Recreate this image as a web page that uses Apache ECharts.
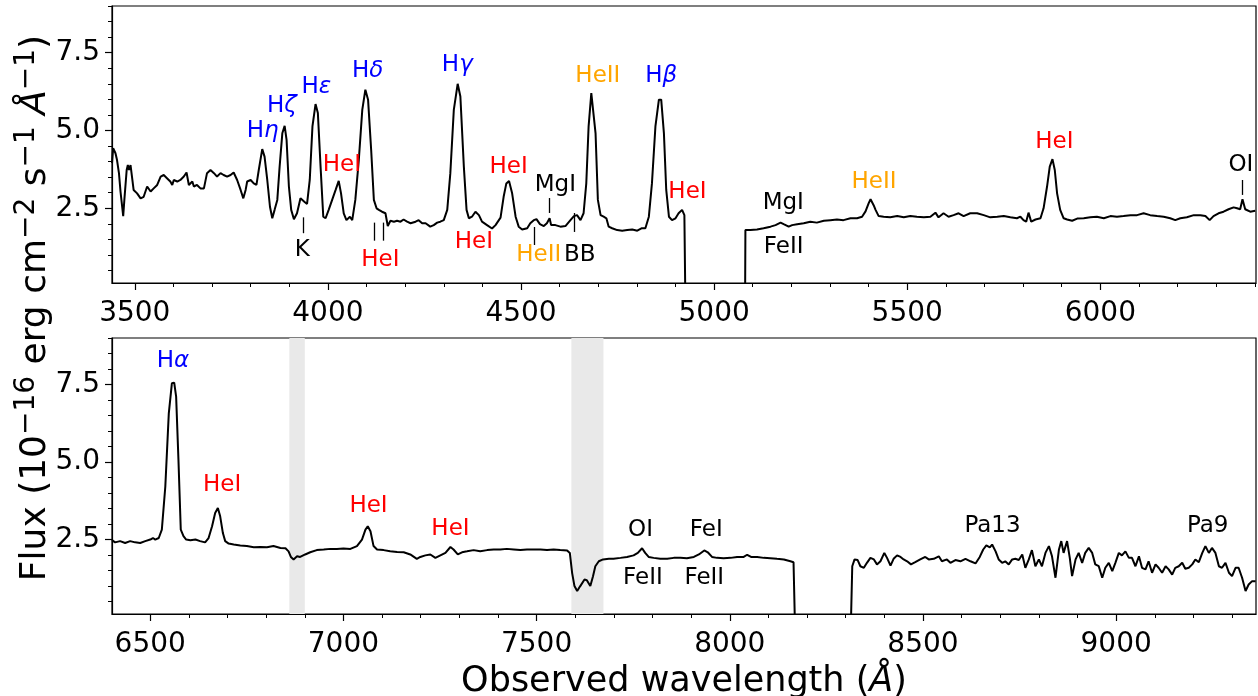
<!DOCTYPE html>
<html><head><meta charset="utf-8">
<script src="https://cdn.jsdelivr.net/npm/echarts@6/dist/echarts.min.js"></script>
<style>html,body{margin:0;padding:0;background:#fff}#c{width:1258px;height:696px}</style>
</head><body><div id="c"></div>
<script>
// ---------- Top panel spectrum (wavelength in Å, flux in 1e-16 erg/cm2/s/Å) ----------
const topWl = [3441,3444,3450,3454,3459,3463,3470,3473,3479,3482,3485,3489,3493,3497,3506,3515,3523,3532,3536,3541,3549,3558,3567,3575,3584,3592,3597,3601,3610,3618,3627,3634,3640,3649,3653,3661,3670,3679,3687,3696,3705,3713,3722,3730,3739,3748,3756,3765,3774,3781,3787,3791,3800,3808,3815,3821,3830,3836,3843,3850,3856,3862,3869,3875,3882,3888,3893,3899,3905,3912,3920,3929,3933,3939,3946,3953,3960,3968,3974,3981,3988,3994,4002,4011,4020,4028,4034,4041,4048,4057,4063,4071,4080,4089,4097,4104,4112,4119,4126,4132,4140,4149,4155,4162,4171,4179,4188,4196,4205,4214,4227,4235,4244,4253,4265,4274,4283,4291,4300,4309,4317,4326,4336,4343,4352,4359,4365,4373,4382,4391,4399,4412,4425,4434,4447,4455,4462,4469,4477,4486,4494,4503,4516,4524,4533,4540,4549,4559,4567,4574,4578,4589,4602,4615,4628,4637,4645,4654,4662,4669,4675,4682,4687,4693,4699,4706,4714,4721,4727,4736,4749,4762,4775,4788,4801,4813,4822,4831,4839,4848,4857,4863,4870,4876,4883,4891,4900,4908,4917,4923,4926,5080,5081,5085,5094,5111,5128,5146,5159,5172,5180,5193,5202,5215,5232,5249,5266,5284,5301,5318,5335,5353,5370,5383,5392,5400,5405,5413,5418,5426,5439,5456,5474,5491,5508,5525,5543,5560,5573,5581,5594,5607,5620,5633,5646,5663,5681,5698,5715,5733,5750,5767,5784,5793,5801,5808,5814,5821,5832,5845,5853,5862,5869,5876,5882,5888,5896,5905,5914,5927,5940,5957,5974,5991,6009,6026,6043,6060,6078,6095,6112,6129,6147,6164,6181,6194,6207,6224,6242,6259,6272,6283,6293,6306,6319,6332,6345,6354,6362,6368,6375,6388,6401];
const topFlux = [3.95,4.43,4.27,4.05,3.63,3.04,2.25,2.77,3.73,3.89,3.73,3.89,3.84,3.09,2.98,2.82,2.87,3.20,3.25,3.04,3.14,3.25,3.52,3.57,3.46,3.36,3.25,3.41,3.36,3.41,3.52,3.65,3.25,3.36,3.20,3.25,3.14,3.14,3.63,3.73,3.63,3.52,3.63,3.57,3.52,3.57,3.65,3.41,3.09,2.82,3.09,3.36,3.41,3.30,3.25,3.73,4.40,4.16,3.41,2.55,2.18,2.45,2.77,3.84,4.91,5.15,4.70,3.20,2.45,2.15,2.34,2.82,2.87,2.71,2.64,3.41,5.13,5.85,5.56,3.84,2.23,2.18,2.45,2.77,3.09,3.38,2.98,2.34,2.12,2.23,2.12,2.77,4.05,5.66,6.31,5.99,4.38,2.77,2.50,2.45,2.39,2.34,1.93,2.10,2.07,2.10,2.07,2.14,2.07,2.02,2.07,2.12,2.02,2.02,1.91,1.96,2.04,2.07,2.12,2.45,3.63,5.66,6.50,6.09,3.84,2.45,2.18,2.23,2.39,2.28,2.07,1.96,1.85,1.96,2.20,2.87,3.30,3.38,2.98,2.23,1.91,1.82,1.86,2.02,2.12,2.15,1.99,1.93,2.02,2.18,1.96,1.96,1.91,1.93,2.12,2.25,2.28,2.12,2.34,3.30,5.13,6.20,6.18,4.91,2.77,2.28,2.23,2.18,1.91,1.86,1.80,1.78,1.80,1.82,1.78,1.86,1.86,2.23,3.30,5.13,5.99,5.99,4.91,3.09,2.23,2.12,2.18,2.34,2.45,2.28,-1,-1,1.80,1.82,1.80,1.82,1.86,1.91,1.96,2.04,1.99,1.91,1.96,1.99,2.02,2.07,2.04,2.10,2.12,2.14,2.12,2.18,2.18,2.23,2.40,2.66,2.79,2.60,2.45,2.25,2.23,2.21,2.25,2.21,2.25,2.23,2.21,2.23,2.36,2.21,2.34,2.23,2.28,2.34,2.25,2.34,2.34,2.28,2.21,2.23,2.25,2.21,2.18,2.23,2.12,2.07,2.36,2.07,2.14,2.18,2.50,3.20,3.84,4.08,3.73,2.98,2.45,2.18,2.14,2.10,2.17,2.18,2.21,2.23,2.18,2.25,2.23,2.25,2.28,2.28,2.34,2.28,2.25,2.23,2.18,2.12,2.18,2.21,2.28,2.28,2.25,2.12,2.25,2.34,2.39,2.47,2.53,2.50,2.47,2.79,2.47,2.39,2.42];

// ---------- Bottom panel spectrum ----------
const botWl = [6401,6409,6422,6435,6448,6461,6474,6487,6500,6507,6513,6522,6530,6539,6548,6556,6562,6567,6573,6579,6586,6593,6604,6617,6629,6642,6651,6660,6668,6675,6681,6688,6694,6703,6716,6733,6750,6768,6785,6802,6819,6837,6850,6858,6864,6871,6880,6888,6901,6914,6931,6949,6966,6983,7000,7018,7035,7048,7057,7063,7070,7078,7087,7104,7121,7139,7156,7173,7190,7199,7212,7225,7238,7251,7264,7277,7285,7296,7307,7320,7337,7354,7372,7389,7406,7423,7441,7458,7475,7492,7510,7527,7544,7561,7579,7586,7592,7598,7605,7613,7624,7630,7639,7646,7652,7661,7672,7687,7699,7717,7734,7751,7762,7773,7781,7790,7803,7820,7838,7855,7872,7889,7907,7920,7934,7943,7954,7967,7984,8002,8019,8036,8045,8055,8071,8088,8105,8122,8140,8157,8165,8170,8312,8317,8323,8331,8338,8347,8355,8364,8373,8381,8390,8400,8407,8416,8424,8433,8442,8450,8459,8469,8480,8493,8506,8515,8528,8541,8549,8562,8571,8584,8597,8610,8623,8636,8647,8656,8664,8673,8679,8688,8696,8705,8713,8722,8731,8739,8748,8757,8765,8774,8782,8791,8800,8808,8817,8826,8834,8843,8852,8858,8864,8873,8880,8886,8895,8903,8912,8920,8929,8938,8946,8955,8964,8972,8981,8990,8998,9007,9015,9024,9033,9041,9050,9059,9067,9076,9084,9093,9102,9110,9119,9128,9136,9145,9153,9162,9171,9179,9188,9197,9205,9214,9223,9231,9240,9248,9257,9266,9274,9283,9292,9300,9309,9317,9326,9335,9343,9352,9361];
const botFlux = [2.48,2.41,2.45,2.39,2.45,2.41,2.39,2.45,2.50,2.55,2.50,2.55,2.82,4.21,6.57,7.54,7.56,7.11,5.07,2.82,2.61,2.50,2.48,2.50,2.45,2.41,2.55,2.93,3.36,3.52,3.25,2.71,2.45,2.37,2.34,2.31,2.29,2.25,2.26,2.25,2.29,2.23,2.22,2.12,1.94,1.86,1.96,1.94,2.02,2.09,2.16,2.18,2.20,2.20,2.21,2.20,2.29,2.50,2.82,2.93,2.77,2.29,2.18,2.16,2.12,2.10,2.09,2.02,1.88,1.94,1.99,2.02,1.91,1.99,2.07,2.26,2.18,2.02,2.09,2.12,2.16,2.12,2.16,2.18,2.18,2.20,2.18,2.16,2.18,2.18,2.18,2.16,2.18,2.16,2.15,2.07,1.42,1.00,0.84,1.00,1.21,1.19,1.00,1.32,1.64,1.80,1.86,1.88,1.88,1.91,1.94,1.99,2.07,2.22,2.07,1.94,1.91,1.88,1.88,1.91,1.91,1.90,1.94,2.02,2.15,2.09,1.94,1.91,1.90,1.91,1.94,1.94,2.01,1.94,1.94,1.91,1.90,1.88,1.86,1.80,1.77,-1,-1,1.64,1.86,1.84,1.64,1.59,1.75,1.91,1.86,1.70,1.80,2.07,1.91,1.66,1.88,1.99,1.94,1.86,1.80,1.70,1.77,1.86,1.94,1.86,1.88,1.96,1.80,1.86,1.75,1.84,1.80,1.88,1.80,1.73,1.94,2.18,2.31,2.25,2.34,2.12,1.86,1.75,1.80,1.70,1.86,1.88,1.84,2.02,1.59,1.86,2.16,1.64,1.86,1.64,2.07,2.29,1.96,1.27,2.18,2.45,2.07,2.45,1.91,1.32,1.86,2.07,1.75,2.07,2.23,2.07,1.70,1.64,1.27,1.59,1.75,1.48,1.75,2.07,1.99,2.12,1.91,1.91,1.64,1.96,1.59,1.54,1.80,1.43,1.70,1.59,1.43,1.64,1.54,1.37,1.59,1.64,1.75,1.56,1.59,1.70,1.86,1.77,2.07,2.29,2.07,2.23,2.07,1.64,1.59,1.75,1.43,1.32,1.59,1.59,1.27,0.84,1.05,1.16,1.16];

// ---------- Axis ranges & tick labels ----------
const topRange = [3441, 6403];
const botRange = [6401, 9362];
const fluxRange = [0.1, 9.0];
const topXTicks = [3500, 4000, 4500, 5000, 5500, 6000];
const botXTicks = [6500, 7000, 7500, 8000, 8500, 9000];
const yTicks = [2.5, 5.0, 7.5];

// ---------- Telluric shaded bands (bottom panel) ----------
const shadeBands = [[6860, 6900], [7590, 7673]];

// ---------- Line identifications ----------
const topLabelText  = ['Hη','Hζ','Hε','Hδ','Hγ','HeII','Hβ','HeI','HeI','HeI','HeI','HeII','OI','MgI','HeII','BB','K','HeI','HeI','MgI','FeII'];
const topLabelWl    = [3831,3881,3970,4103,4335,4699,4863,4036,4468,4931,5881,5414,6364,4589,4546,4652,3934,4136,4378,5179,5180];
const topLabelFlux  = [4.99,5.79,6.41,6.90,7.11,6.74,6.74,3.89,3.84,3.02,4.64,3.35,3.89,3.25,1.00,1.00,1.16,0.84,1.42,2.66,1.26];
const topLabelColor = ['#0000ff','#0000ff','#0000ff','#0000ff','#0000ff','#ffa500','#0000ff','#ff0000','#ff0000','#ff0000','#ff0000','#ffa500','#000000','#000000','#ffa500','#000000','#000000','#ff0000','#ff0000','#000000','#000000'];
// small vertical markers: [wavelength, lower flux, upper flux]
const topMarkWl   = [3935, 4120, 4143, 4535, 4573, 4639, 6367];
const topMarkLow  = [1.70, 1.46, 1.46, 1.32, 2.35, 1.74, 2.93];
const topMarkHigh = [2.21, 2.04, 2.04, 1.90, 2.83, 2.35, 3.41];

const botLabelText  = ['Hα','HeI','HeI','HeI','OI','FeI','FeII','FeII','Pa13','Pa9'];
const botLabelWl    = [6559,6686,7065,7277,7769,7939,7775,7934,8680,9237];
const botLabelFlux  = [8.27,4.25,3.57,2.84,2.80,2.80,1.27,1.27,2.95,2.95];
const botLabelColor = ['#0000ff','#ff0000','#ff0000','#ff0000','#000000','#000000','#000000','#000000','#000000','#000000'];

// ---------- Build chart ----------
const FONT = 'DejaVu Sans';
const zip = (a, b) => a.map((v, i) => [v, b[i]]);
function minorList(lo, hi, step) {
  const out = [];
  for (let v = Math.ceil(lo / step) * step; v <= hi + 1e-9; v += step) out.push(Math.round(v * 100) / 100);
  return out;
}
function labelData(txt, wl, fl, col) {
  return txt.map((t, i) => ({ name: t, value: [wl[i], fl[i]], label: { color: col[i] } }));
}
function markData(wl, lo, hi) {
  return wl.map((w, i) => [{ coord: [w, lo[i]] }, { coord: [w, hi[i]] }]);
}

const grids = [
  { left: 112, top: 6, width: 1144, height: 277, show: true, borderColor: '#000', borderWidth: 1.2, containLabel: false },
  { left: 112, top: 338, width: 1144, height: 276, show: true, borderColor: '#000', borderWidth: 1.2, containLabel: false }
];

function xAxes(g, range, majors) {
  return [
    { type: 'value', gridIndex: g, min: range[0], max: range[1], position: 'bottom',
      axisLine: { show: true, onZero: false, lineStyle: { color: '#000', width: 1.2 } },
      axisTick: { show: true, customValues: majors, length: 7, lineStyle: { color: '#000', width: 1.2 } },
      axisLabel: { show: true, customValues: majors, color: '#000', fontFamily: FONT, fontSize: 28, margin: 17,
                   formatter: v => String(Math.round(v)) },
      splitLine: { show: false } },
    { type: 'value', gridIndex: g, min: range[0], max: range[1], position: 'bottom',
      axisLine: { show: false, onZero: false },
      axisTick: { show: true, customValues: minorList(range[0], range[1], 100), length: 4, lineStyle: { color: '#000', width: 1 } },
      axisLabel: { show: false }, splitLine: { show: false } }
  ];
}
function yAxes(g) {
  return [
    { type: 'value', gridIndex: g, min: fluxRange[0], max: fluxRange[1], position: 'left',
      axisLine: { show: true, onZero: false, lineStyle: { color: '#000', width: 1.2 } },
      axisTick: { show: true, customValues: yTicks, length: 7, lineStyle: { color: '#000', width: 1.2 } },
      axisLabel: { show: true, customValues: yTicks, color: '#000', fontFamily: FONT, fontSize: 28, margin: 12,
                   formatter: v => Number(v).toFixed(1) },
      splitLine: { show: false } },
    { type: 'value', gridIndex: g, min: fluxRange[0], max: fluxRange[1], position: 'left',
      axisLine: { show: false, onZero: false },
      axisTick: { show: true, customValues: minorList(fluxRange[0], fluxRange[1], 0.5), length: 4, lineStyle: { color: '#000', width: 1 } },
      axisLabel: { show: false }, splitLine: { show: false } }
  ];
}

const annLabel = {
  show: true, position: 'inside', fontFamily: FONT, fontSize: 23, opacity: 1,
  formatter: p => p.name.replace(/([α-ω])/g, '{g|$1}'),
  rich: { g: { fontStyle: 'italic', fontFamily: FONT, fontSize: 23 } }
};

const option = {
  animation: false,
  backgroundColor: '#fff',
  grid: grids,
  xAxis: [...xAxes(0, topRange, topXTicks), ...xAxes(1, botRange, botXTicks)],
  yAxis: [...yAxes(0), ...yAxes(1)],
  series: [
    { type: 'line', xAxisIndex: 2, yAxisIndex: 2, data: [], z: 1, silent: true,
      markArea: { silent: true, itemStyle: { color: '#e9e9e9' },
        data: shadeBands.map(b => [{ xAxis: b[0] }, { xAxis: b[1] }]) } },
    { type: 'line', xAxisIndex: 0, yAxisIndex: 0, data: zip(topWl, topFlux), showSymbol: false, z: 3,
      clip: true, lineStyle: { color: '#000', width: 2, opacity: 1 }, silent: true },
    { type: 'line', xAxisIndex: 2, yAxisIndex: 2, data: zip(botWl, botFlux), showSymbol: false, z: 3,
      clip: true, lineStyle: { color: '#000', width: 2, opacity: 1 }, silent: true },
    { type: 'scatter', xAxisIndex: 0, yAxisIndex: 0, symbolSize: 0, z: 4, silent: true,
      itemStyle: { opacity: 1 },
      data: labelData(topLabelText, topLabelWl, topLabelFlux, topLabelColor), label: annLabel,
      markLine: { silent: true, symbol: ['none', 'none'], label: { show: false },
        lineStyle: { color: '#000', width: 1.3, type: 'solid', opacity: 1 },
        data: markData(topMarkWl, topMarkLow, topMarkHigh) } },
    { type: 'scatter', xAxisIndex: 2, yAxisIndex: 2, symbolSize: 0, z: 4, silent: true,
      itemStyle: { opacity: 1 },
      data: labelData(botLabelText, botLabelWl, botLabelFlux, botLabelColor), label: annLabel }
  ],
  graphic: [
    { type: 'text', x: 36, y: 308, rotation: Math.PI / 2,
      style: { text: 'Flux (10{s|−16} erg cm{s|−2} s{s|−1} {i|Å}{s|−1})',
        fontFamily: FONT, fontSize: 36, fill: '#000', align: 'center', verticalAlign: 'middle', lineHeight: 46,
        rich: { s: { fontFamily: FONT, fontSize: 28, lineHeight: 28, verticalAlign: 'top', fill: '#000' },
                i: { fontFamily: FONT, fontSize: 36, fontStyle: 'italic', lineHeight: 46, fill: '#000' } } } },
    { type: 'text', x: 684, y: 682,
      style: { text: 'Observed wavelength ({i|Å})', fontFamily: FONT, fontSize: 35, fill: '#000',
        align: 'center', verticalAlign: 'middle',
        rich: { i: { fontFamily: FONT, fontSize: 35, fontStyle: 'italic', fill: '#000' } } } }
  ]
};
const chart = echarts.init(document.getElementById('c'), null, { renderer: 'canvas' });
chart.setOption(option);
</script></body></html>
